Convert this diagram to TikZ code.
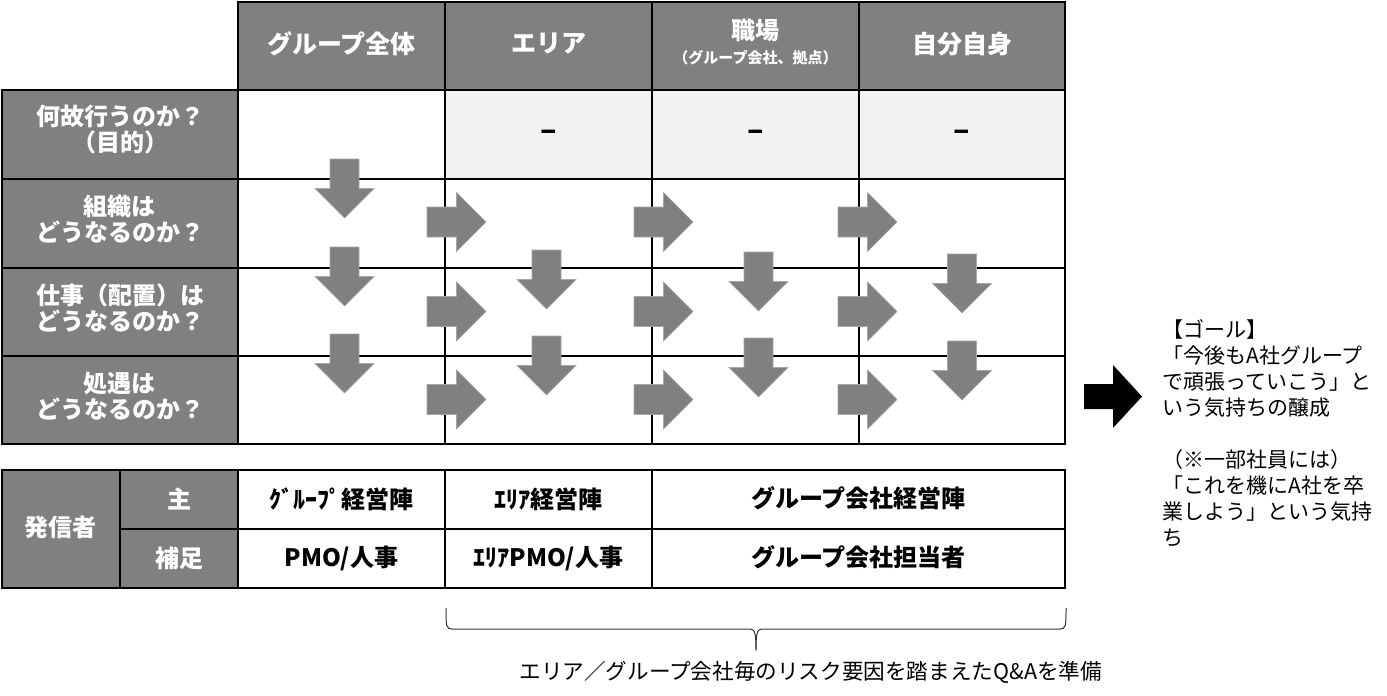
\documentclass[tikz,border=0pt]{standalone}
\usepackage{fontspec}
\setmainfont{Noto Sans CJK JP}
\definecolor{cellgray}{HTML}{808080}
\definecolor{palegray}{HTML}{F2F2F2}
\tikzset{
  hd/.style={text=white, inner sep=0pt, align=center, font=\bfseries\fontsize{12}{13}\selectfont},
  bd/.style={text=black, inner sep=0pt, align=center, font=\bfseries\fontsize{12}{13}\selectfont},
  note/.style={text=black, inner sep=0pt, align=left, font=\fontsize{10.5}{13}\selectfont},
  blk/.style={fill=cellgray, draw=cellgray!70!white, line width=0.3pt},
  pics/downarrow/.style={code={
    \filldraw[blk] (-14.5,0) -- (14.5,0) -- (14.5,29.5) -- (29.5,29.5) -- (0,59) -- (-29.5,29.5) -- (-14.5,29.5) -- cycle;}},
  pics/rightarrow/.style={code={
    \filldraw[blk] (0,-15) -- (29.5,-15) -- (29.5,-29.5) -- (59,0) -- (29.5,29.5) -- (29.5,15) -- (0,15) -- cycle;}}
}
\begin{document}
\begin{tikzpicture}[x=0.5pt, y=-0.5pt]
        \useasboundingbox (0,0) rectangle (1387,696);

        % upper table
        \fill[cellgray] (238,2) rectangle (1065,90);
        \fill[cellgray] (2,90) rectangle (238,444);
        \fill[palegray] (445,90) rectangle (1065,179);
        \foreach \cx in {445,652,859}
          \draw[line width=0.75pt] (\cx,2) -- (\cx,444);
        \foreach \ry in {179,268,356}
          \draw[line width=0.75pt] (2,\ry) -- (1065,\ry);
        \draw[line width=0.75pt] (238,90) -- (1065,90);
        \draw[line width=0.75pt] (238,90) -- (238,444);
        \draw[line width=1.2pt] (238,2) -- (1065,2) -- (1065,444) -- (2,444) -- (2,90) -- (238,90) -- cycle;

        \node[hd, font=\bfseries\fontsize{12.5}{13}\selectfont] (hgrp) at (341.5,44) {グループ全体};
        \node[hd, font=\bfseries\fontsize{12.5}{13}\selectfont] (harea) at (548.5,44) {エリア};
        \node[hd] (hwork) at (755.5,30) {職場};
        \node[hd, font=\bfseries\fontsize{7.5}{8}\selectfont] (hworksub) at (755.5,58) {（グループ会社、拠点）};
        \node[hd, font=\bfseries\fontsize{12.5}{13}\selectfont] (hself) at (962,44) {自分自身};

        \node[hd] (qwhy) at (120,129) {何故行うのか？\\（目的）};
        \node[hd] (qorg) at (120,219) {組織は\\どうなるのか？};
        \node[hd] (qjob) at (120,308) {仕事（配置）は\\どうなるのか？};
        \node[hd] (qpay) at (120,396) {処遇は\\どうなるのか？};

        \node[bd, font=\bfseries\fontsize{15}{15}\selectfont] (narea) at (548.5,135) {–};
        \node[bd, font=\bfseries\fontsize{15}{15}\selectfont] (nwork) at (755.5,135) {–};
        \node[bd, font=\bfseries\fontsize{15}{15}\selectfont] (nself) at (962,135) {–};

        % gray arrows
        \foreach \ax/\ay in {344.5/159, 344.5/247, 344.5/334, 546.5/250, 546.5/336,
                             758.5/252, 758.5/338, 962/254, 962/341}
          \pic at (\ax,\ay) {downarrow};
        \foreach \ax in {427,634,838}
          \foreach \ay in {222,311.5,399.5}
            \pic at (\ax,\ay) {rightarrow};

        % goal
        \fill[black] (1084,384) -- (1113,384) -- (1113,365) -- (1142,396.5) -- (1113,428) -- (1113,409) -- (1084,409) -- cycle;
        \node[note, anchor=north west] (goal) at (1162,319) {【ゴール】\\「今後もA社グループ\\で頑張っていこう」と\\いう気持ちの醸成\\[13pt]（※一部社員には）\\「これを機にA社を卒\\業しよう」という気持\\ち};

        % lower table
        \fill[cellgray] (2,470) rectangle (238,588);
        \foreach \cx in {120,238,445,652}
          \draw[line width=0.75pt] (\cx,470) -- (\cx,588);
        \draw[line width=0.75pt] (120,529) -- (1065,529);
        \draw[line width=1.2pt] (2,470) rectangle (1065,588);

        \node[hd] (sender) at (61,527) {発信者};
        \node[hd] (mainrole) at (179,499) {主};
        \node[hd] (subrole) at (179,558) {補足};
        \node[bd] (grpexec) at (341.5,499) {ｸﾞﾙｰﾌﾟ経営陣};
        \node[bd] (areaexec) at (548.5,499) {ｴﾘｱ経営陣};
        \node[bd] (coexec) at (858.5,498) {グループ会社経営陣};
        \node[bd] (grphr) at (341.5,558) {PMO/人事};
        \node[bd] (areahr) at (548.5,558) {ｴﾘｱPMO/人事};
        \node[bd] (costaff) at (858.5,557) {グループ会社担当者};

        % brace and note
        \draw[line width=0.5pt, black!80] (446,608) .. controls (446,626) and (446,629) .. (452,629) -- (750,629) .. controls (755,629) and (756,634) .. (756,650);
        \draw[line width=0.5pt, black!80] (1066,608) .. controls (1066,626) and (1066,629) .. (1060,629) -- (762,629) .. controls (757,629) and (756,634) .. (756,650);
        \node[note, font=\fontsize{10.8}{13}\selectfont, anchor=west] (qa) at (519,672) {エリア／グループ会社毎のリスク要因を踏まえたQ\&Aを準備};

\end{tikzpicture}
\end{document}
